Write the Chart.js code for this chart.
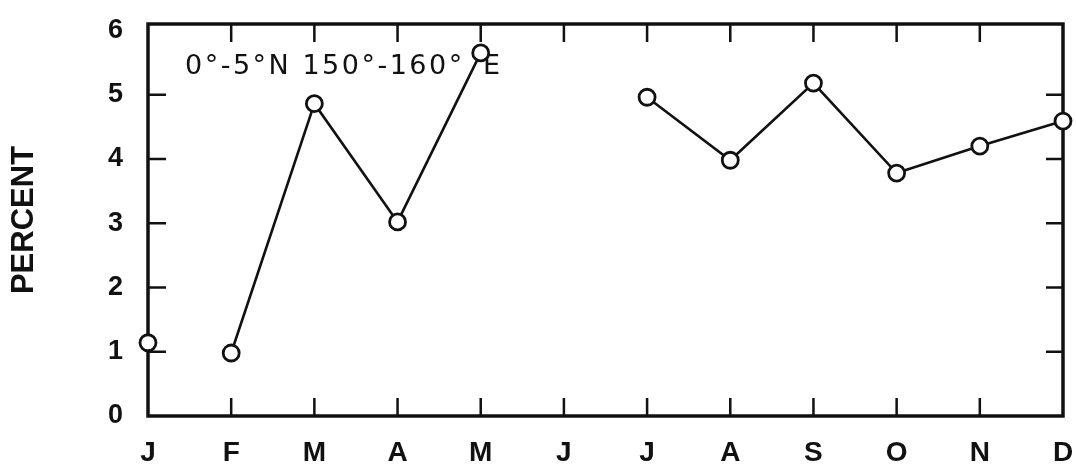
<!DOCTYPE html>
<html>
<head>
<meta charset="utf-8">
<script src="https://cdn.jsdelivr.net/npm/chart.js@4"></script>
<style>
  html, body { margin: 0; padding: 0; background: #fff; }
  #wrap { width: 1076px; height: 471px; }
</style>
</head>
<body>
<div id="wrap"><canvas id="c" width="1076" height="471"></canvas></div>
<script>
// ---- data ----
const months = ['J', 'F', 'M', 'A', 'M', 'J', 'J', 'A', 'S', 'O', 'N', 'D'];
const percentValues = [1.14, 0.98, 4.86, 3.02, 5.65, null, 4.96, 3.98, 5.18, 3.78, 4.2, 4.59];
const yTickValues = [0, 1, 2, 3, 4, 5, 6];
const yAxisMax = 6.1;
const yAxisTitle = 'PERCENT';
const regionLabel = '0°-5°N 150°-160°';
const regionLabelEnd = 'E';
// segments that are not joined in the original (Jan -> Feb)
const brokenSegmentStarts = [0];

const INK = '#111';

const framePlugin = {
  id: 'frame',
  beforeDatasetsDraw(chart) {
    const { ctx, chartArea: a, scales } = chart;
    const xs = scales.x, ys = scales.y;
    ctx.save();
    ctx.strokeStyle = INK;
    ctx.lineCap = 'butt';
    // inward ticks
    ctx.lineWidth = 2.5;
    ctx.beginPath();
    for (let i = 1; i < months.length - 1; i++) {
      const px = xs.getPixelForValue(i);
      ctx.moveTo(px, a.bottom); ctx.lineTo(px, a.bottom - 18);
      ctx.moveTo(px, a.top); ctx.lineTo(px, a.top + 18);
    }
    for (const v of yTickValues) {
      if (v === yTickValues[0] || v === yTickValues[yTickValues.length - 1]) continue;
      const py = ys.getPixelForValue(v);
      ctx.moveTo(a.left, py); ctx.lineTo(a.left + 18, py);
      ctx.moveTo(a.right, py); ctx.lineTo(a.right - 17, py);
    }
    ctx.stroke();
    // frame
    ctx.lineWidth = 3.5;
    ctx.strokeRect(a.left, a.top, a.right - a.left, a.bottom - a.top);
    // region annotation
    ctx.fillStyle = INK;
    ctx.font = '27px "DejaVu Sans"';
    ctx.textBaseline = 'alphabetic';
    ctx.textAlign = 'left';
    if ('letterSpacing' in ctx) ctx.letterSpacing = '2.5px';
    ctx.fillText(regionLabel, 185, 74);
    ctx.fillText(regionLabelEnd, 483, 74);
    ctx.restore();
  }
};

new Chart(document.getElementById('c'), {
  type: 'line',
  data: {
    labels: months,
    datasets: [{
      data: percentValues,
      borderColor: INK,
      borderWidth: 2.6,
      backgroundColor: '#fff',
      pointBackgroundColor: '#fff',
      pointBorderColor: INK,
      pointBorderWidth: 2.8,
      pointRadius: 8,
      tension: 0,
      spanGaps: false,
      clip: false,
      segment: {
        borderColor: ctx => brokenSegmentStarts.includes(ctx.p0DataIndex) ? 'rgba(0,0,0,0)' : INK
      }
    }]
  },
  options: {
    responsive: false,
    animation: false,
    events: [],
    layout: { padding: { top: 24, right: 13, left: 0, bottom: 0 } },
    plugins: { legend: { display: false }, tooltip: { enabled: false } },
    scales: {
      x: {
        type: 'category',
        offset: false,
        grid: { display: false, drawTicks: false },
        border: { display: false },
        ticks: {
          color: INK,
          font: { family: '"Liberation Sans", Arial, sans-serif', size: 28, weight: 'bold' },
          padding: 20,
          maxRotation: 0,
          autoSkip: false
        },
        afterFit(scale) { scale.height = 55; scale.paddingLeft = 0; scale.paddingRight = 0; }
      },
      y: {
        min: 0, max: yAxisMax,
        grid: { display: false, drawTicks: false },
        border: { display: false },
        afterBuildTicks(scale) { scale.ticks = yTickValues.map(v => ({ value: v })); },
        ticks: {
          color: INK,
          font: { family: '"Liberation Sans", Arial, sans-serif', size: 27, weight: 'bold' },
          padding: 25
        },
        title: {
          display: true,
          text: yAxisTitle,
          color: INK,
          font: { family: '"Liberation Sans", Arial, sans-serif', size: 31, weight: 'bold' },
          padding: { top: 6, bottom: 0 }
        },
        afterFit(scale) { scale.width = 148; scale.paddingTop = 0; scale.paddingBottom = 0; }
      }
    }
  },
  plugins: [framePlugin]
});
</script>
</body>
</html>
